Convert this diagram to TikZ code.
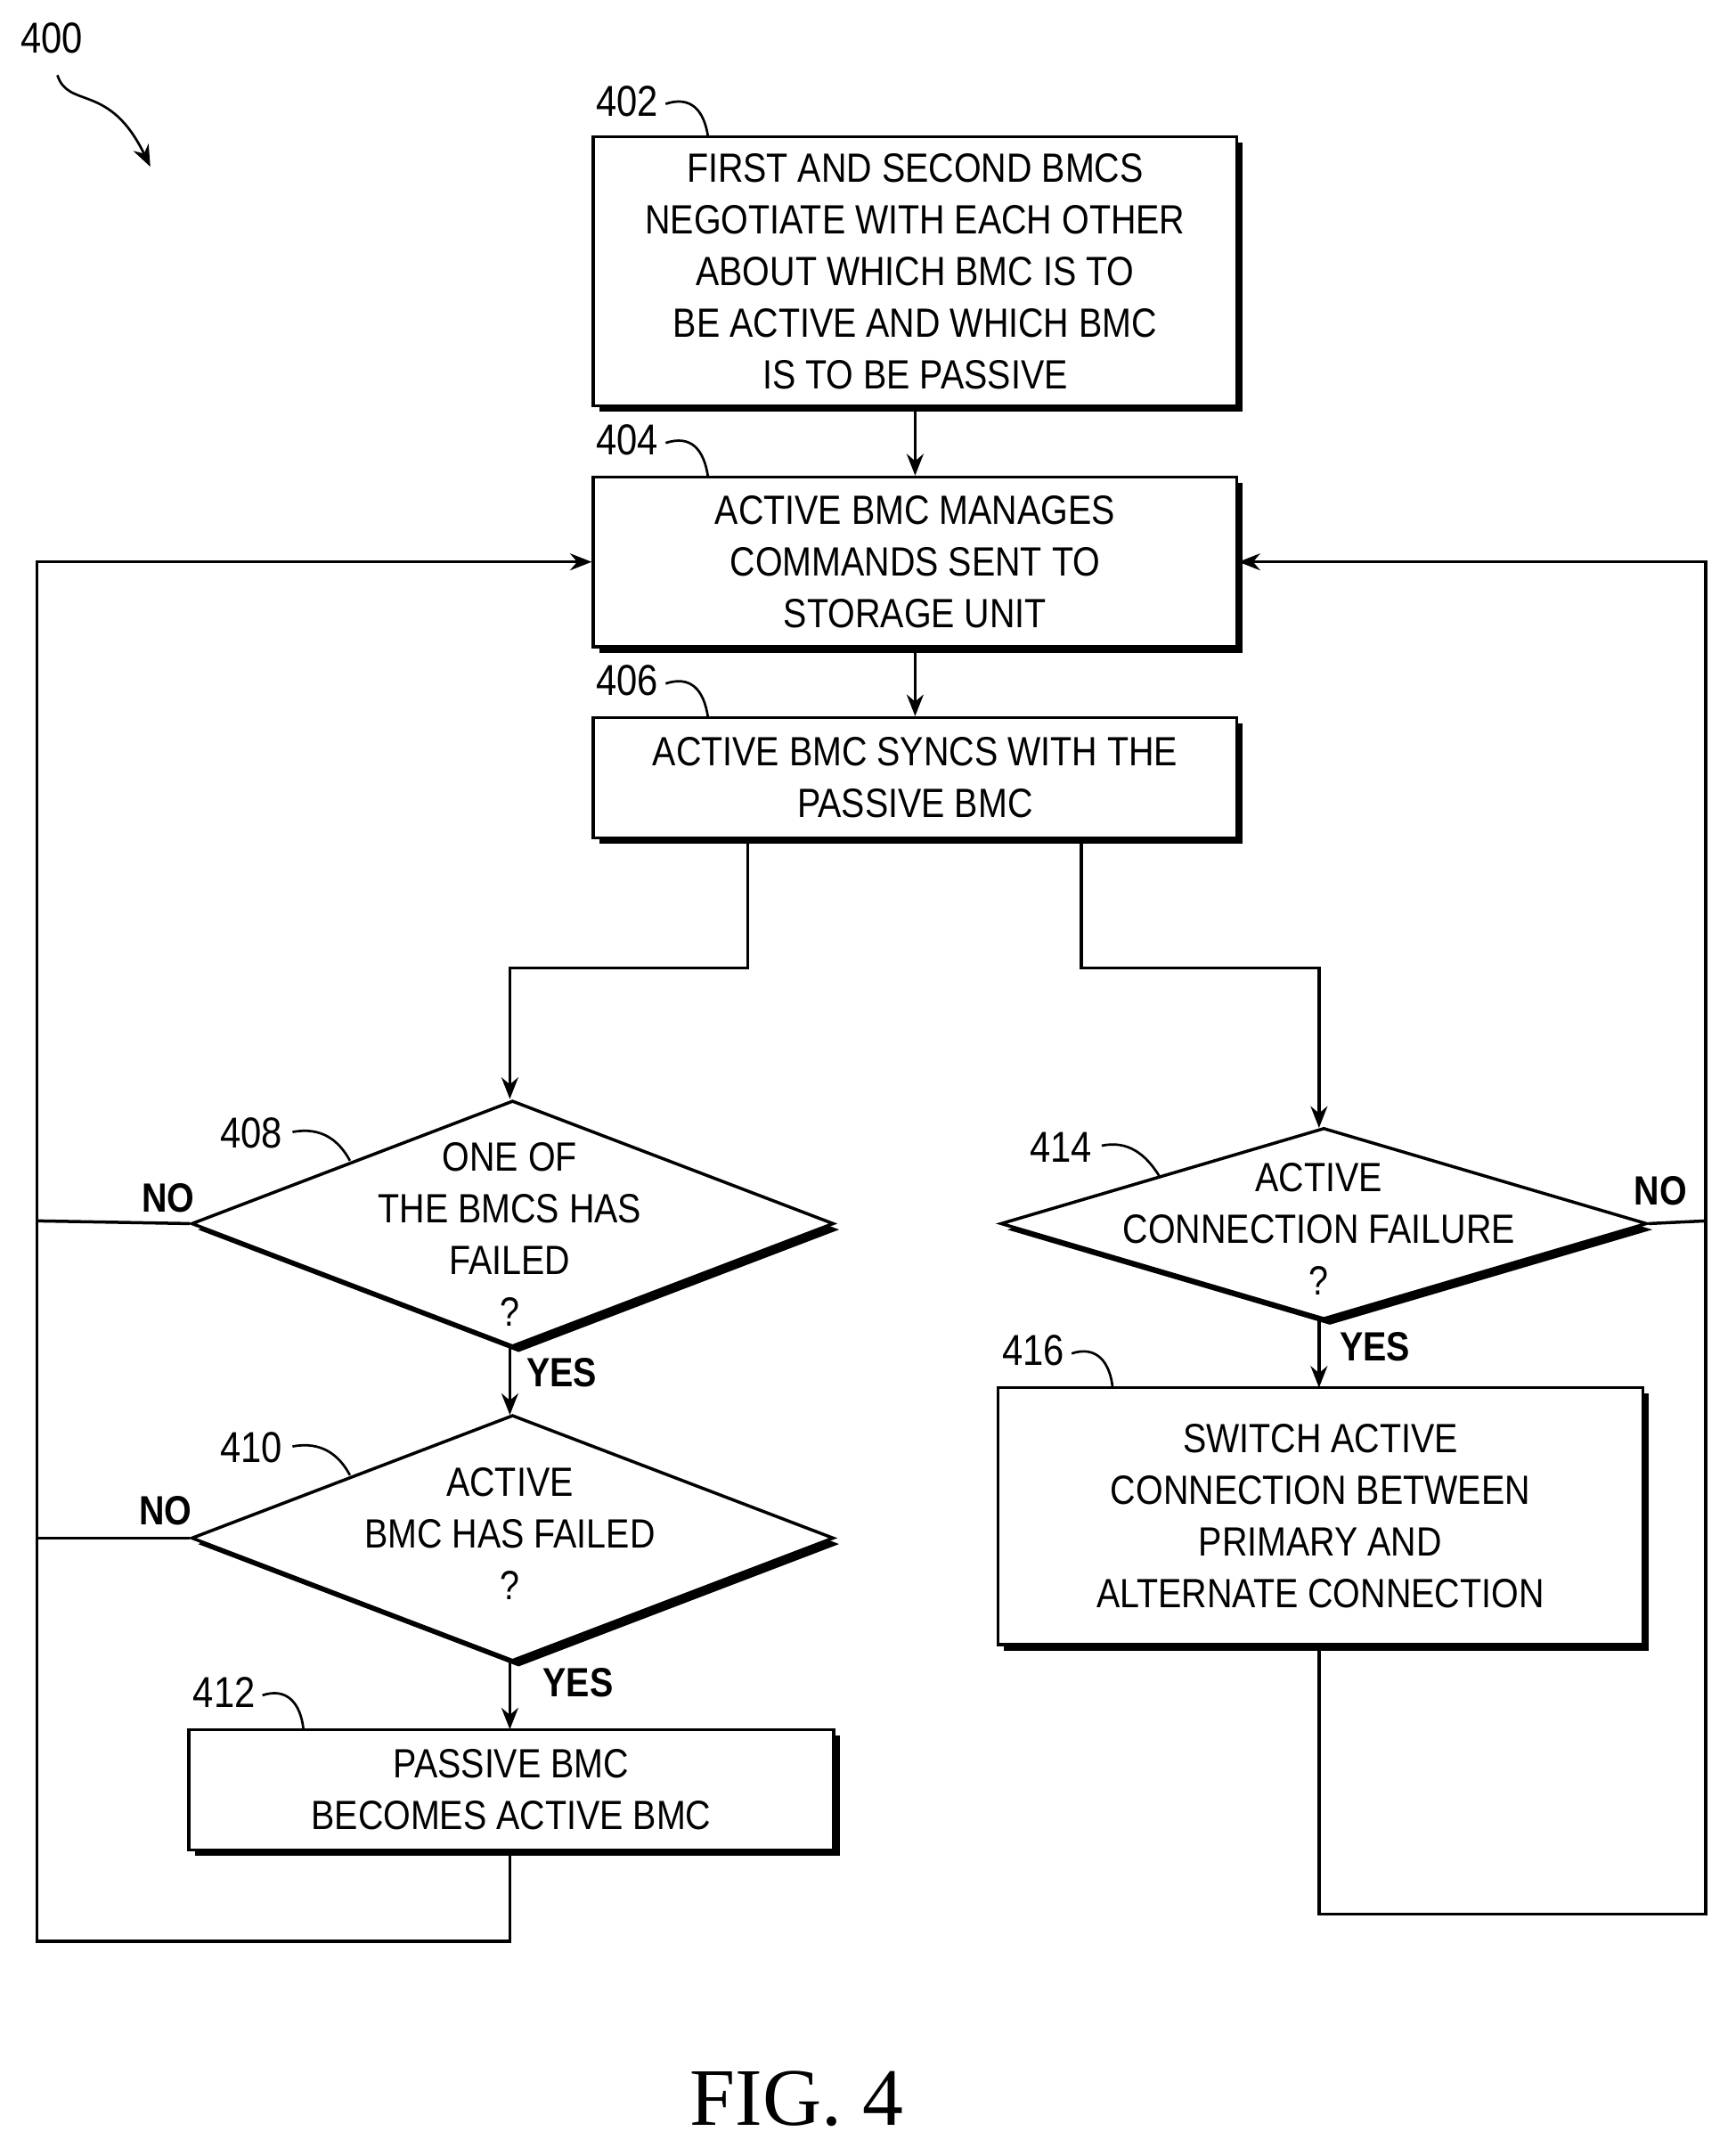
\documentclass[tikz,border=0pt]{standalone}
\usepackage{fontspec}
\setmainfont{Liberation Serif}
\setsansfont{Liberation Sans}[FakeStretch=0.86]
\usetikzlibrary{shapes.geometric,shadows,arrows.meta}
\begin{document}
\begin{tikzpicture}[x=0.02cm,y=-0.02cm,
  every node/.style={font=\sffamily\fontsize{17}{21.5}\selectfont},
  sh/.style={drop shadow={shadow xshift=2.5pt,shadow yshift=-2.5pt,fill=black,opacity=1}},
  box/.style={draw,line width=1.3pt,fill=white,sh,align=center,inner sep=0pt},
  dia/.style={draw,diamond,line width=1.3pt,fill=white,sh,inner sep=0pt},
  txt/.style={align=center,inner sep=0pt},
  ln/.style={line width=1.3pt},
  ar/.style={ln,-{Stealth[length=9pt,width=7pt]}},
  lab/.style={font=\sffamily\bfseries\fontsize{17}{20}\selectfont},
  num/.style={font=\sffamily\fontsize{18}{20}\selectfont},
  lead/.style={line width=1pt}]
\useasboundingbox (0,0) rectangle (1270,1577);
\node[box,minimum width=9.42cm,minimum height=3.94cm] (b402) at (669.5,198.5) {FIRST AND SECOND BMCS\\NEGOTIATE WITH EACH OTHER\\ABOUT WHICH BMC IS TO\\BE ACTIVE AND WHICH BMC\\IS TO BE PASSIVE};
\node[box,minimum width=9.42cm,minimum height=2.48cm] (b404) at (669.5,411) {ACTIVE BMC MANAGES\\COMMANDS SENT TO\\STORAGE UNIT};
\node[box,minimum width=9.42cm,minimum height=1.76cm] (b406) at (669.5,569) {ACTIVE BMC SYNCS WITH THE\\PASSIVE BMC};
\node[dia,minimum width=9.4cm,minimum height=3.6cm] (d408) at (375,895) {};
\node[txt] at (373,903) {ONE OF\\THE BMCS HAS\\FAILED\\?};
\node[dia,minimum width=9.4cm,minimum height=3.6cm] (d410) at (375,1125) {};
\node[txt] at (373,1122) {ACTIVE\\BMC HAS FAILED\\?};
\node[box,minimum width=9.44cm,minimum height=1.76cm] (b412) at (374,1309) {PASSIVE BMC\\BECOMES ACTIVE BMC};
\node[dia,minimum width=9.46cm,minimum height=2.8cm] (d414) at (968.5,895) {};
\node[txt] at (965,899) {ACTIVE\\CONNECTION FAILURE\\?};
\node[box,minimum width=9.44cm,minimum height=3.76cm] (b416) at (966,1109) {SWITCH ACTIVE\\CONNECTION BETWEEN\\PRIMARY AND\\ALTERNATE CONNECTION};
% connectors
\draw[ar] (b402.south) -- (b404.north);
\draw[ar] (b404.south) -- (b406.north);
\coordinate (s1) at (547,613);
\coordinate (s2) at (791,613);
\draw[ar] (s1) -- (547,708) -- (373,708) -- (d408.north -| 373,0);
\draw[ar] (s2) -- (791,708) -- (965,708) -- (965,825);
\draw[ar] (373,985) -- (373,1035);
\draw[ar] (373,1215) -- (373,1265);
\draw[ar] (965,965) -- (965,1015);
\coordinate (L) at (27,411);
\draw[ln] (d408.west) -- (27,893);
\draw[ln] (d410.west) -- (27,1125);
\draw[ar] (373,1353) -- (373,1420) -- (27,1420) -- (L) -- (b404.west);
\draw[ln] (d414.east) -- (1248,893);
\draw[ar] (965,1203) -- (965,1400) -- (1248,1400) -- (1248,411) -- (b404.east);
% labels
\node[lab] at (123,876) {NO};
\node[lab] at (121,1105) {NO};
\node[lab] at (1215,871) {NO};
\node[lab] at (411,1004) {YES};
\node[lab] at (423,1231) {YES};
\node[lab] at (1006,985) {YES};
% numbers
\node[num] at (38,28) {400};
\draw[lead,-{Stealth[length=9pt,width=7pt]}] (42,55) .. controls (50,80) and (80,60) .. (110,122);
\node[num] at (459,74) {402};
\draw[lead] (487,76) .. controls (505,70) and (515,80) .. (518,100);
\node[num] at (459,322) {404};
\draw[lead] (487,324) .. controls (505,318) and (515,328) .. (518,349);
\node[num] at (459,498) {406};
\draw[lead] (487,500) .. controls (505,494) and (515,504) .. (518,525);
\node[num] at (184,829) {408};
\draw[lead] (214,828) .. controls (235,824) and (248,834) .. (256,849);
\node[num] at (184,1059) {410};
\draw[lead] (214,1058) .. controls (235,1054) and (248,1064) .. (256,1079);
\node[num] at (164,1238) {412};
\draw[lead] (192,1240) .. controls (210,1234) and (220,1246) .. (222,1265);
\node[num] at (776,839) {414};
\draw[lead] (806,838) .. controls (825,834) and (838,844) .. (848,860);
\node[num] at (756,988) {416};
\draw[lead] (784,990) .. controls (802,984) and (812,996) .. (814,1015);
\node[font=\rmfamily\fontsize{34}{36}\selectfont] at (583,1535) {FIG. 4};
\end{tikzpicture}
\end{document}
